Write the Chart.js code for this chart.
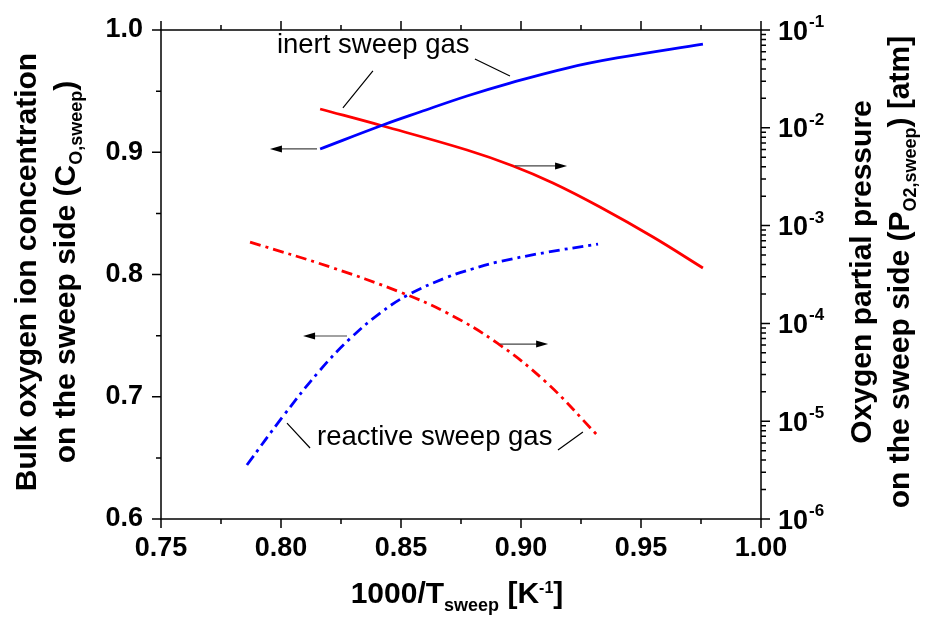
<!DOCTYPE html>
<html>
<head>
<meta charset="utf-8">
<script src="https://cdn.jsdelivr.net/npm/chart.js@4.4.1/dist/chart.umd.min.js"></script>
<style>
html,body{margin:0;padding:0;background:#fff;}
#c{display:block;}
</style>
</head>
<body>
<canvas id="c" width="928" height="620"></canvas>
<script>
// ---- data (x = 1000/T_sweep [1/K]) ----
const inertCx = [0.8163, 0.8425, 0.8579, 0.8775, 0.8954, 0.9192, 0.9400, 0.9758];
const inertCy = [0.9027, 0.9223, 0.9329, 0.9460, 0.9566, 0.9689, 0.9771, 0.9885];
const inertPx = [0.8163, 0.8425, 0.8775, 0.8967, 0.9133, 0.9329, 0.9550, 0.9758];
const inertPy = [1.557e-2, 1.043e-2, 5.93e-3, 4.07e-3, 2.726e-3, 1.549e-3, 7.645e-4, 3.685e-4];
const reactCx = [0.7858, 0.8008, 0.8163, 0.8288, 0.8413, 0.8529, 0.8692, 0.8800, 0.8900, 0.9108, 0.9321];
const reactCy = [0.6442, 0.6839, 0.7218, 0.7476, 0.7684, 0.7833, 0.7977, 0.8047, 0.8101, 0.8182, 0.8249];
const reactPx = [0.7871, 0.8204, 0.8496, 0.8692, 0.8900, 0.9108, 0.9317];
const reactPy = [6.79e-4, 3.78e-4, 2.09e-4, 1.28e-4, 6.31e-5, 2.46e-5, 7.23e-6];

// ---- tick labels ----
const xTickLabels = ['0.75', '0.80', '0.85', '0.90', '0.95', '1.00'];
const leftTickLabels = ['0.6', '0.7', '0.8', '0.9', '1.0'];
const rightTickExponents = [-6, -5, -4, -3, -2, -1];

// ---- annotations, in (x, left-axis y) data coordinates ----
const noteTexts = ['inert sweep gas', 'reactive sweep gas'];
const notePos = [[0.7983, 0.9812], [0.8150, 0.6605]];
const leaderLines = [[0.8258, 0.9362, 0.8383, 0.9665], [0.8808, 0.9763, 0.8954, 0.9624],
                     [0.8025, 0.6785, 0.8121, 0.6581], [0.9154, 0.6564, 0.9258, 0.6712]];
const arrowLines = [[0.8150, 0.9027, 0.7954, 0.9027], [0.8975, 0.8888, 0.9192, 0.8888],
                    [0.8275, 0.7497, 0.8092, 0.7497], [0.8913, 0.7431, 0.9113, 0.7431]];

const FAM = '"Liberation Sans", Arial, Helvetica, sans-serif';
const pts = (xs, ys) => xs.map((x, i) => ({x: x, y: ys[i]}));

function richWidth(ctx, segs) {
  let w = 0;
  segs.forEach(s => { ctx.font = s.f; w += ctx.measureText(s.t).width; });
  return w;
}
function drawRich(ctx, segs, cx, baseY) {
  let x = cx - richWidth(ctx, segs) / 2;
  ctx.textAlign = 'left';
  ctx.textBaseline = 'alphabetic';
  segs.forEach(s => {
    ctx.font = s.f;
    ctx.fillText(s.t, x, baseY + (s.dy || 0));
    x += ctx.measureText(s.t).width;
  });
}

const deco = {
  id: 'deco',
  afterDraw(chart) {
    const ctx = chart.ctx, a = chart.chartArea;
    const xs = chart.scales.x, ys = chart.scales.y, yr = chart.scales.y2;
    ctx.save();
    ctx.strokeStyle = '#000';
    ctx.fillStyle = '#000';
    ctx.lineWidth = 1.5;
    // frame
    ctx.strokeRect(a.left, a.top, a.right - a.left, a.bottom - a.top);
    const MAJ = 9, MIN = 5;
    ctx.beginPath();
    // x ticks (bottom & top, outward)
    for (let i = 0; i <= 10; i++) {
      const v = xs.min + i * 0.025;
      const p = xs.getPixelForValue(v);
      const L = (i % 2 === 0) ? MAJ : MIN;
      ctx.moveTo(p, a.bottom); ctx.lineTo(p, a.bottom + L);
      ctx.moveTo(p, a.top); ctx.lineTo(p, a.top - L);
    }
    // left ticks
    for (let i = 0; i <= 8; i++) {
      const v = ys.min + i * 0.05;
      const p = ys.getPixelForValue(v);
      const L = (i % 2 === 0) ? MAJ : MIN;
      ctx.moveTo(a.left, p); ctx.lineTo(a.left - L, p);
    }
    // right log ticks
    rightTickExponents.forEach(e => {
      const p = yr.getPixelForValue(Math.pow(10, e));
      ctx.moveTo(a.right, p); ctx.lineTo(a.right + MAJ, p);
      if (e < -1) {
        for (let m = 2; m <= 9; m++) {
          const q = yr.getPixelForValue(m * Math.pow(10, e));
          ctx.moveTo(a.right, q); ctx.lineTo(a.right + MIN, q);
        }
      }
    });
    ctx.stroke();

    // right tick labels 10^e
    rightTickExponents.forEach(e => {
      const p = yr.getPixelForValue(Math.pow(10, e));
      const base = p + 9.5;
      ctx.textAlign = 'left'; ctx.textBaseline = 'alphabetic';
      ctx.font = 'bold 27px ' + FAM;
      const x0 = a.right + 17;
      ctx.fillText('10', x0, base);
      const w = ctx.measureText('10').width;
      ctx.font = 'bold 17px ' + FAM;
      ctx.fillText('-' + Math.abs(e), x0 + w + 1, base - 12.5);
    });

    // axis titles
    const TF = 'bold 30px ' + FAM, SF = 'bold 18px ' + FAM;
    const cy = 272;
    // left
    ctx.save();
    ctx.translate(36, cy); ctx.rotate(-Math.PI / 2);
    drawRich(ctx, [{t: 'Bulk oxygen ion concentration', f: TF}], 0, 0);
    ctx.restore();
    ctx.save();
    ctx.translate(75, cy); ctx.rotate(-Math.PI / 2);
    drawRich(ctx, [{t: 'on the sweep side (C', f: TF}, {t: 'O,sweep', f: SF, dy: 7}, {t: ')', f: TF}], 0, 0);
    ctx.restore();
    // right
    ctx.save();
    ctx.translate(871, cy); ctx.rotate(-Math.PI / 2);
    drawRich(ctx, [{t: 'Oxygen partial pressure', f: TF}], 0, 0);
    ctx.restore();
    ctx.save();
    ctx.translate(909, cy); ctx.rotate(-Math.PI / 2);
    drawRich(ctx, [{t: 'on the sweep side (P', f: TF}, {t: 'O2,sweep', f: SF, dy: 7}, {t: ') [atm]', f: TF}], 0, 0);
    ctx.restore();
    // x title
    drawRich(ctx, [{t: '1000/T', f: TF}, {t: 'sweep', f: SF, dy: 8}, {t: ' [K', f: TF},
                   {t: '-1', f: 'bold 16px ' + FAM, dy: -10}, {t: ']', f: TF}], 457, 603);

    // annotations
    const X = v => xs.getPixelForValue(v), Y = v => ys.getPixelForValue(v);
    ctx.font = '27.5px ' + FAM;
    ctx.textAlign = 'left'; ctx.textBaseline = 'alphabetic';
    noteTexts.forEach((t, i) => ctx.fillText(t, X(notePos[i][0]), Y(notePos[i][1])));
    ctx.lineWidth = 1.2;
    ctx.strokeStyle = '#000';
    ctx.beginPath();
    leaderLines.forEach(l => { ctx.moveTo(X(l[0]), Y(l[1])); ctx.lineTo(X(l[2]), Y(l[3])); });
    ctx.stroke();
    arrowLines.forEach(l => {
      const x1 = X(l[0]), y1 = Y(l[1]), x2 = X(l[2]), y2 = Y(l[3]);
      const dir = Math.sign(x2 - x1);
      ctx.strokeStyle = '#444';
      ctx.beginPath(); ctx.moveTo(x1, y1); ctx.lineTo(x2 - dir * 8, y2); ctx.stroke();
      ctx.fillStyle = '#000';
      ctx.beginPath();
      ctx.moveTo(x2, y2); ctx.lineTo(x2 - dir * 12, y2 - 3.5); ctx.lineTo(x2 - dir * 12, y2 + 3.5);
      ctx.closePath(); ctx.fill();
    });
    ctx.restore();
  }
};

const zeroPad = s => { s.paddingTop = 0; s.paddingBottom = 0; s.paddingLeft = 0; s.paddingRight = 0; };
const lineBase = {pointRadius: 0, borderWidth: 2.8, fill: false, tension: 0.4};
new Chart(document.getElementById('c'), {
  type: 'line',
  data: {
    datasets: [
      Object.assign({label: 'C inert', data: pts(inertCx, inertCy), borderColor: '#0000ff', yAxisID: 'y'}, lineBase),
      Object.assign({label: 'P inert', data: pts(inertPx, inertPy), borderColor: '#ff0000', yAxisID: 'y2'}, lineBase),
      Object.assign({label: 'C reactive', data: pts(reactCx, reactCy), borderColor: '#0000ff', yAxisID: 'y', borderDash: [11, 5, 3, 5]}, lineBase),
      Object.assign({label: 'P reactive', data: pts(reactPx, reactPy), borderColor: '#ff0000', yAxisID: 'y2', borderDash: [11, 5, 3, 5]}, lineBase)
    ]
  },
  options: {
    responsive: false,
    animation: false,
    devicePixelRatio: 1,
    layout: {padding: {top: 30, left: 0, right: 0, bottom: 0}},
    plugins: {legend: {display: false}, tooltip: {enabled: false}, title: {display: false}},
    scales: {
      x: {
        type: 'linear', position: 'bottom', min: 0.75, max: 1.0,
        grid: {display: false, drawTicks: false}, border: {display: false},
        ticks: {stepSize: 0.05, padding: 13, color: '#000', maxRotation: 0, autoSkip: false,
                font: {family: FAM, size: 27, weight: 'bold'},
                callback: (v) => { const i = Math.round((v - 0.75) / 0.05); return xTickLabels[i] !== undefined ? xTickLabels[i] : ''; }},
        afterFit: s => { s.height = 101; zeroPad(s); }
      },
      y: {
        type: 'linear', position: 'left', min: 0.6, max: 1.0,
        grid: {display: false, drawTicks: false}, border: {display: false},
        ticks: {stepSize: 0.1, padding: 18, color: '#000',
                font: {family: FAM, size: 27, weight: 'bold'},
                callback: (v) => { const i = Math.round((v - 0.6) / 0.1); return leftTickLabels[i] !== undefined ? leftTickLabels[i] : ''; }},
        afterFit: s => { s.width = 161; zeroPad(s); }
      },
      y2: {
        type: 'logarithmic', position: 'right', min: 1e-6, max: 1e-1,
        grid: {display: false, drawTicks: false}, border: {display: false},
        ticks: {display: false},
        afterFit: s => { s.width = 167; zeroPad(s); }
      }
    }
  },
  plugins: [deco]
});
</script>
</body>
</html>
